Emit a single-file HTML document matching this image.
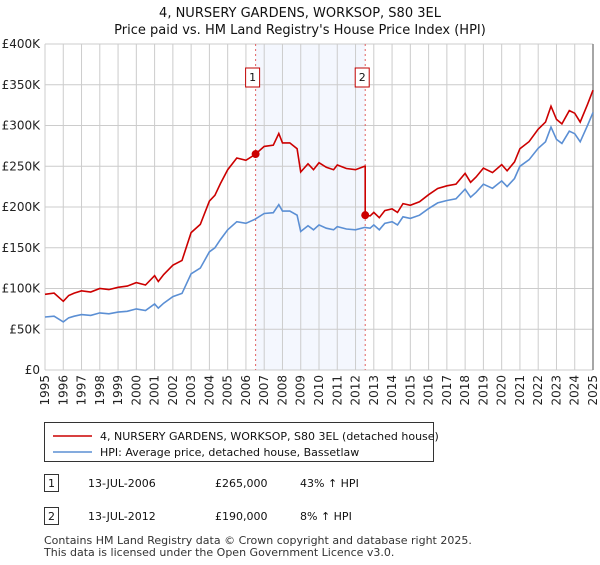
<!DOCTYPE html>
<html><head><meta charset="utf-8"><style>
body{margin:0;background:#fff;font-family:"Liberation Sans","DejaVu Sans",sans-serif;}
#wrap{position:relative;width:600px;height:560px;}
</style></head><body>
<div id="wrap">
<svg id="chart" width="600" height="560" font-family="DejaVu Sans, Liberation Sans, sans-serif"></svg>
</div>
<script>
const hpiYears=[1995,1995.5,1996,1996.3,1996.6,1997,1997.5,1998,1998.5,1999,1999.5,2000,2000.5,2001,2001.2,2001.5,2002,2002.5,2003,2003.5,2004,2004.3,2004.6,2005,2005.5,2006,2006.5,2007,2007.5,2007.8,2008,2008.4,2008.8,2009,2009.4,2009.7,2010,2010.4,2010.8,2011,2011.5,2012,2012.5,2012.8,2013,2013.3,2013.6,2014,2014.3,2014.6,2015,2015.5,2016,2016.5,2017,2017.5,2018,2018.3,2018.6,2019,2019.5,2020,2020.3,2020.7,2021,2021.5,2022,2022.4,2022.7,2023,2023.3,2023.7,2024,2024.3,2024.7,2025];
const hpiValues=[65,66,59,64,66,68,67,70,69,71,72,75,73,81,76,82,90,94,118,125,145,150,160,172,182,180,185,192,193,203,195,195,190,170,177,172,178,174,172,176,173,172,175,174,178,172,180,182,178,188,186,190,198,205,208,210,222,212,218,228,223,232,225,235,250,258,272,280,298,283,278,293,290,280,300,316];
const saleDates=[2006.53,2012.53];
const salePrices=[265,190];
const saleLabels=["1","2"];
const yTicks=[0,50,100,150,200,250,300,350,400];
const yTickLabels=["£0","£50K","£100K","£150K","£200K","£250K","£300K","£350K","£400K"];
const xTicks=[1995,1996,1997,1998,1999,2000,2001,2002,2003,2004,2005,2006,2007,2008,2009,2010,2011,2012,2013,2014,2015,2016,2017,2018,2019,2020,2021,2022,2023,2024,2025];

const svg=document.getElementById('chart');
const NS='http://www.w3.org/2000/svg';
const X0=45,X1=593,Y0=370,Y1=44;
const xs=y=>X0+(y-1995)/30*(X1-X0);
const ys=v=>Y0-v/400*(Y0-Y1);
function mk(t,a,p){const e=document.createElementNS(NS,t);for(const k in a)e.setAttribute(k,a[k]);(p||svg).appendChild(e);return e;}
function hpiAt(t){for(let i=0;i<hpiYears.length-1;i++){if(t>=hpiYears[i]&&t<=hpiYears[i+1]){const f=(t-hpiYears[i])/(hpiYears[i+1]-hpiYears[i]);return hpiValues[i]+f*(hpiValues[i+1]-hpiValues[i]);}}return hpiValues[hpiValues.length-1];}

let t=mk('text',{x:300,y:17,'text-anchor':'middle','font-size':13,fill:'#111'});t.textContent='4, NURSERY GARDENS, WORKSOP, S80 3EL';


t=mk('text',{x:300,y:34,'text-anchor':'middle','font-size':13,fill:'#111'});t.textContent="Price paid vs. HM Land Registry's House Price Index (HPI)";



let r=mk('rect',{x:xs(saleDates[0]),y:Y1,width:xs(saleDates[1])-xs(saleDates[0]),height:Y0-Y1,fill:'#f4f7fe'});



xTicks.forEach(y=>{const l=mk('line',{x1:xs(y),x2:xs(y),y1:Y1,y2:Y0,stroke:'#cccccc','stroke-width':1});


const tx=mk('text',{transform:`translate(${xs(y)+4},${Y0+5}) rotate(-90)`,'text-anchor':'end','font-size':12,fill:'#222'});tx.textContent=y;

});
yTicks.forEach((v,i)=>{const l=mk('line',{x1:X0,x2:X1,y1:ys(v),y2:ys(v),stroke:'#cccccc','stroke-width':1});


const tx=mk('text',{x:40,y:ys(v)+4,'text-anchor':'end','font-size':12,fill:'#222'});tx.textContent=yTickLabels[i];

});
let ed=mk('line',{x1:X1,x2:X1,y1:Y1,y2:Y0,stroke:'#888','stroke-width':1.5});



saleDates.forEach((d,i)=>{const l=mk('line',{x1:xs(d),x2:xs(d),y1:Y1,y2:Y0,stroke:'#e06060','stroke-width':1,'stroke-dasharray':'2,3'});


const g=mk('g',{});


mk('rect',{x:xs(d)-10,y:68,width:14,height:19,fill:'#fff',stroke:'#c00000','stroke-width':1},g);
const tx=mk('text',{x:xs(d)-3,y:81,'text-anchor':'middle','font-size':11,fill:'#111'},g);tx.textContent=saleLabels[i];});

const hp=hpiYears.map((y,i)=>`${i?'L':'M'}${xs(y).toFixed(1)},${ys(hpiValues[i]).toFixed(1)}`).join(' ');
let p=mk('path',{d:hp,fill:'none',stroke:'#5b8fd4','stroke-width':1.6});



function factorAt(y){let f=salePrices[0]/hpiAt(saleDates[0]);for(let i=0;i<saleDates.length;i++){if(y>=saleDates[i])f=salePrices[i]/hpiAt(saleDates[i]);}return f;}
const pts=[];
hpiYears.forEach((y,i)=>{
  saleDates.forEach((d,k)=>{if(k>0&&hpiYears[i-1]<d&&y>=d){const h=hpiAt(d);pts.push([d,h*salePrices[k-1]/hpiAt(saleDates[k-1])]);pts.push([d,salePrices[k]]);}});
  pts.push([y,hpiValues[i]*factorAt(y)]);
});
const pp=pts.map((q,i)=>`${i?'L':'M'}${xs(q[0]).toFixed(1)},${ys(q[1]).toFixed(1)}`).join(' ');
p=mk('path',{d:pp,fill:'none',stroke:'#cc0000','stroke-width':1.6});


saleDates.forEach((d,i)=>{const c=mk('circle',{cx:xs(d),cy:ys(salePrices[i]),r:4,fill:'#cc0000'});

});

const lg=mk('g',{});


mk('rect',{x:44.5,y:422.5,width:389,height:39,fill:'#fff',stroke:'#333','stroke-width':1},lg);
mk('line',{x1:53,x2:92,y1:436,y2:436,stroke:'#cc0000','stroke-width':1.6},lg);
t=mk('text',{x:100,y:440,'font-size':11,fill:'#111'},lg);t.textContent='4, NURSERY GARDENS, WORKSOP, S80 3EL (detached house)';


mk('line',{x1:53,x2:92,y1:452,y2:452,stroke:'#5b8fd4','stroke-width':1.6},lg);
t=mk('text',{x:100,y:456,'font-size':11,fill:'#111'},lg);t.textContent='HPI: Average price, detached house, Bassetlaw';



const rows=[["1","13-JUL-2006","£265,000","43% ↑ HPI"],["2","13-JUL-2012","£190,000","8% ↑ HPI"]];
rows.forEach((rw,i)=>{const y=483+i*33;const g=mk('g',{});


mk('rect',{x:44.5,y:y-8.5,width:14,height:17,fill:'#fff',stroke:'#333'},g);
let a=mk('text',{x:51.5,y:y+4,'text-anchor':'middle','font-size':11,fill:'#111'},g);a.textContent=rw[0];
a=mk('text',{x:88,y:y+4,'font-size':11,fill:'#111'},g);a.textContent=rw[1];
a=mk('text',{x:215,y:y+4,'font-size':11,fill:'#111'},g);a.textContent=rw[2];
a=mk('text',{x:300,y:y+4,'font-size':11,fill:'#111'},g);a.textContent=rw[3];});
t=mk('text',{x:44,y:544,'font-size':11,fill:'#333'});t.textContent='Contains HM Land Registry data © Crown copyright and database right 2025.';


t=mk('text',{x:44,y:556,'font-size':11,fill:'#333'});t.textContent='This data is licensed under the Open Government Licence v3.0.';


</script>
</body></html>
